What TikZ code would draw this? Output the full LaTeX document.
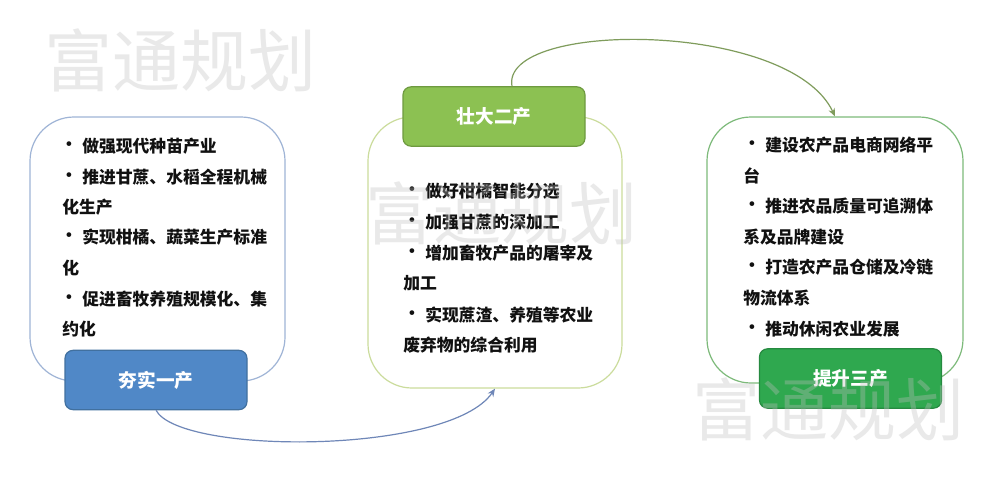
\documentclass[tikz,border=0pt]{standalone}
\usepackage{fontspec}
\usetikzlibrary{arrows.meta,calc}
\newfontfamily\cjk{Noto Sans CJK SC}
\definecolor{bonea}{HTML}{9FB4D6}
\definecolor{btwoa}{HTML}{CBDC9C}
\definecolor{bthreea}{HTML}{7DBA7A}
\definecolor{lonefill}{HTML}{5088C7}
\definecolor{lonedraw}{HTML}{41709F}
\definecolor{ltwofill}{HTML}{8CC152}
\definecolor{ltwodraw}{HTML}{6E9A40}
\definecolor{lthreefill}{HTML}{2FA84F}
\definecolor{lthreedraw}{HTML}{268A40}
\definecolor{arrone}{HTML}{6F87B8}
\definecolor{arrtwo}{HTML}{7F9C5C}
\definecolor{txt}{HTML}{111111}
\begin{document}
\begin{tikzpicture}[x=0.75pt,y=-0.75pt,
  bigbox/.style={rectangle,rounded corners=33pt,line width=0.9pt,fill=white,inner sep=0pt},
  labelbox/.style={rectangle,rounded corners=6pt,line width=0.9pt,inner sep=0pt,
     minimum width=136.5pt,minimum height=44.5pt,font=\cjk\bfseries\fontsize{14}{16}\selectfont,text=white},
  line/.style={anchor=west,inner sep=0pt,font=\cjk\bfseries\fontsize{12.6}{14}\selectfont,text=txt},
  dot/.style={inner sep=0pt,font=\cjk\bfseries\fontsize{12.6}{14}\selectfont,text=txt},
  wm/.style={inner sep=0pt,font=\cjk\fontsize{51}{54}\selectfont,text=black!25,opacity=0.34},
  conn/.style={line width=0.9pt,-{Stealth[length=6pt,width=5pt]}}]
\useasboundingbox (0,0) rectangle (1000,476);
\fill[white] (0,0) rectangle (1000,476);

% big boxes
\node[bigbox,draw=bonea,minimum width=191.25pt,minimum height=198pt] (b1) at (157.5,249) {};
\node[bigbox,draw=btwoa,minimum width=190.5pt,minimum height=203.25pt] (b2) at (495,252.5) {};
\node[bigbox,draw=bthreea,minimum width=192pt,minimum height=199.5pt] (b3) at (835,250) {};

% labels
\node[labelbox,fill=lonefill,draw=lonedraw] (l1) at (156,380) {夯实一产};
\node[labelbox,fill=ltwofill,draw=ltwodraw] (l2) at (494,116.5) {壮大二产};
\node[labelbox,fill=lthreefill,draw=lthreedraw] (l3) at (850.5,378.5) {提升三产};

% left text
\node[dot] (d11) at (69,146) {·};
\node[line] (t11) at (82,146) {做强现代种苗产业};
\node[dot] (d12) at (69,177) {·};
\node[line] (t12) at (82,177) {推进甘蔗、水稻全程机械};
\node[line] (t12b) at (62,207) {化生产};
\node[dot] (d13) at (69,237) {·};
\node[line] (t13) at (82,237) {实现柑橘、蔬菜生产标准};
\node[line] (t13b) at (62,268) {化};
\node[dot] (d14) at (69,299) {·};
\node[line] (t14) at (82,299) {促进畜牧养殖规模化、集};
\node[line] (t14b) at (62,329) {约化};

% middle text
\node[dot] (d21) at (412,191) {·};
\node[line] (t21) at (425,191) {做好柑橘智能分选};
\node[dot] (d22) at (412,222) {·};
\node[line] (t22) at (425,222) {加强甘蔗的深加工};
\node[dot] (d23) at (412,253) {·};
\node[line] (t23) at (425,253) {增加畜牧产品的屠宰及};
\node[line] (t23b) at (403,283) {加工};
\node[dot] (d24) at (412,315) {·};
\node[line] (t24) at (425,315) {实现蔗渣、养殖等农业};
\node[line] (t24b) at (403,345) {废弃物的综合利用};

% right text
\node[dot] (d31) at (752,145) {·};
\node[line] (t31) at (765,145) {建设农产品电商网络平};
\node[line] (t31b) at (743,176) {台};
\node[dot] (d32) at (752,206) {·};
\node[line] (t32) at (765,206) {推进农品质量可追溯体};
\node[line] (t32b) at (743,237) {系及品牌建设};
\node[dot] (d33) at (752,267) {·};
\node[line] (t33) at (765,267) {打造农产品仓储及冷链};
\node[line] (t33b) at (743,298) {物流体系};
\node[dot] (d34) at (752,329) {·};
\node[line] (t34) at (765,329) {推动休闲农业发展};

% connectors
\draw[conn,draw=arrone] (l1.south) .. controls (180,455) and (450,455) .. (b2.south);
\coordinate (s2) at ($(l2.north)+(18,0)$);
\draw[conn,draw=arrtwo] (s2) .. controls (500,20) and (790,20) .. (b3.north);

% watermarks
\node[wm] (w1) at (181,60) {富通规划};
\node[wm] (w2) at (501,213) {富通规划};
\node[wm] (w3) at (828,409) {富通规划};
\end{tikzpicture}
\end{document}
